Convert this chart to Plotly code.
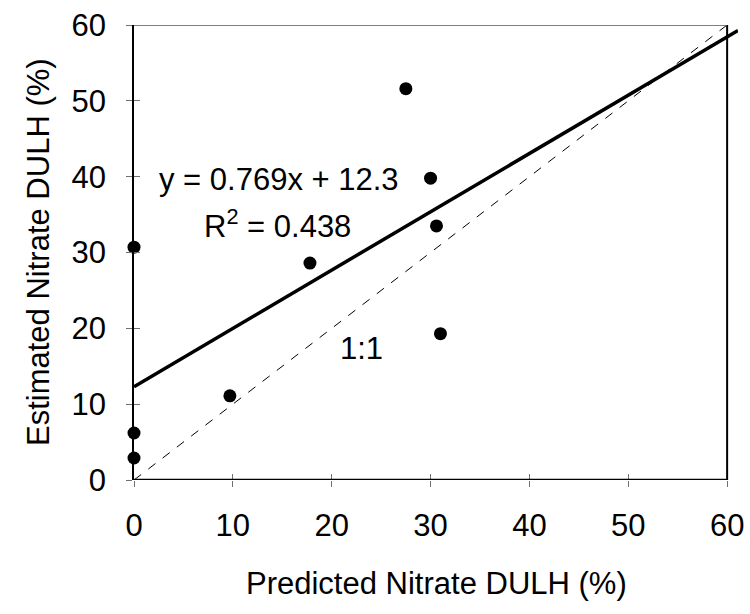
import plotly.graph_objects as go

# Data
predicted = [0, 0, 0, 9.7, 17.8, 27.5, 30.0, 30.6, 31.0]
estimated = [30.7, 6.2, 2.9, 11.1, 28.6, 51.6, 39.8, 33.5, 19.3]
slope = 0.769
intercept = 12.3
r2 = 0.438
x_ticks = [0, 10, 20, 30, 40, 50, 60]
y_ticks = [0, 10, 20, 30, 40, 50, 60]

FONT = "Liberation Sans, Arial, sans-serif"
FS = 31
XMAX_VIEW = 61.1
L, R, T, B = 134, 12, 25, 134
W, H = 750, 614
DW = W - L - R
DH = H - T - B

fig = go.Figure()

# 1:1 line
fig.add_trace(go.Scatter(x=[0, 60], y=[0, 60], mode="lines",
                         line=dict(color="black", width=1, dash="dash"),
                         hoverinfo="skip", showlegend=False))
# regression line
fig.add_trace(go.Scatter(x=[0, XMAX_VIEW],
                         y=[intercept, slope * XMAX_VIEW + intercept],
                         mode="lines", line=dict(color="black", width=3.5),
                         hoverinfo="skip", showlegend=False))
# points
fig.add_trace(go.Scatter(x=predicted, y=estimated, mode="markers",
                         marker=dict(color="black", size=13),
                         cliponaxis=False, showlegend=False))

tickfont = dict(family=FONT, size=FS, color="black")

fig.update_layout(
    width=W, height=H,
    margin=dict(l=L, r=R, t=T, b=B, autoexpand=False),
    paper_bgcolor="white", plot_bgcolor="white",
    font=dict(family=FONT, color="black"),
    xaxis=dict(range=[0, XMAX_VIEW], tickvals=x_ticks,
               ticks="outside", ticklen=6, tickcolor="#707070", tickwidth=1,
               ticklabelstandoff=12, ticklabeloverflow="allow",
               automargin=False,
               showgrid=False, zeroline=False, showline=False,
               tickfont=tickfont),
    yaxis=dict(range=[0, 60], tickvals=y_ticks, ticks="outside",
               ticklen=6, tickcolor="#707070", tickwidth=1,
               ticklabelstandoff=14, automargin=False,
               showgrid=False, zeroline=False, showline=True,
               linecolor="black", linewidth=1.5,
               tickfont=tickfont),
    xaxis2=dict(range=[0, XMAX_VIEW], tickvals=x_ticks, ticks="inside",
                ticklen=6, tickcolor="#707070", tickwidth=1,
                showticklabels=False, showgrid=False, zeroline=False,
                automargin=False, overlaying="x", side="bottom"),
    yaxis2=dict(range=[0, 60], tickvals=y_ticks, ticks="inside",
                ticklen=6, tickcolor="#707070", tickwidth=1,
                showticklabels=False, showgrid=False, zeroline=False,
                automargin=False, overlaying="y", side="left"),
)
# dummy trace to activate the secondary axes
fig.add_trace(go.Scatter(x=[None], y=[None], xaxis="x2", yaxis="y2",
                         showlegend=False, hoverinfo="skip"))

# frame
fig.add_shape(type="line", x0=0, x1=60, y0=0, y1=0, xref="x", yref="y",
              line=dict(color="black", width=2.5), layer="above")
fig.add_shape(type="line", x0=60, x1=60, y0=0, y1=60, xref="x", yref="y",
              line=dict(color="black", width=2), layer="above")
fig.add_shape(type="line", x0=0, x1=60, y0=60, y1=60, xref="x", yref="y",
              line=dict(color="#555555", width=1.5), layer="above")

annfont = dict(family=FONT, size=FS, color="black")
fig.add_annotation(x=14.7, y=39.6, xref="x", yref="y", showarrow=False,
                   text=f"y = {slope}x + {intercept}", font=annfont)
fig.add_annotation(x=14.5, y=33.8, xref="x", yref="y", showarrow=False,
                   text=f"R<sup>2</sup> = {r2}", font=annfont)
fig.add_annotation(x=23.0, y=17.4, xref="x", yref="y", showarrow=False,
                   text="1:1", font=annfont)

# axis titles
fig.add_annotation(xref="x domain", yref="y domain",
                   x=(436 - L) / DW, y=-(583 - (H - B)) / DH,
                   xanchor="center", yanchor="middle",
                   showarrow=False, text="Predicted Nitrate DULH (%)",
                   font=annfont)
fig.add_annotation(xref="x domain", yref="y domain",
                   x=-(L - 38) / DW, y=((H - B) - 252) / DH,
                   xanchor="center", yanchor="middle",
                   showarrow=False, textangle=-90,
                   text="Estimated Nitrate DULH (%)", font=annfont)

fig.write_html("out.html")
